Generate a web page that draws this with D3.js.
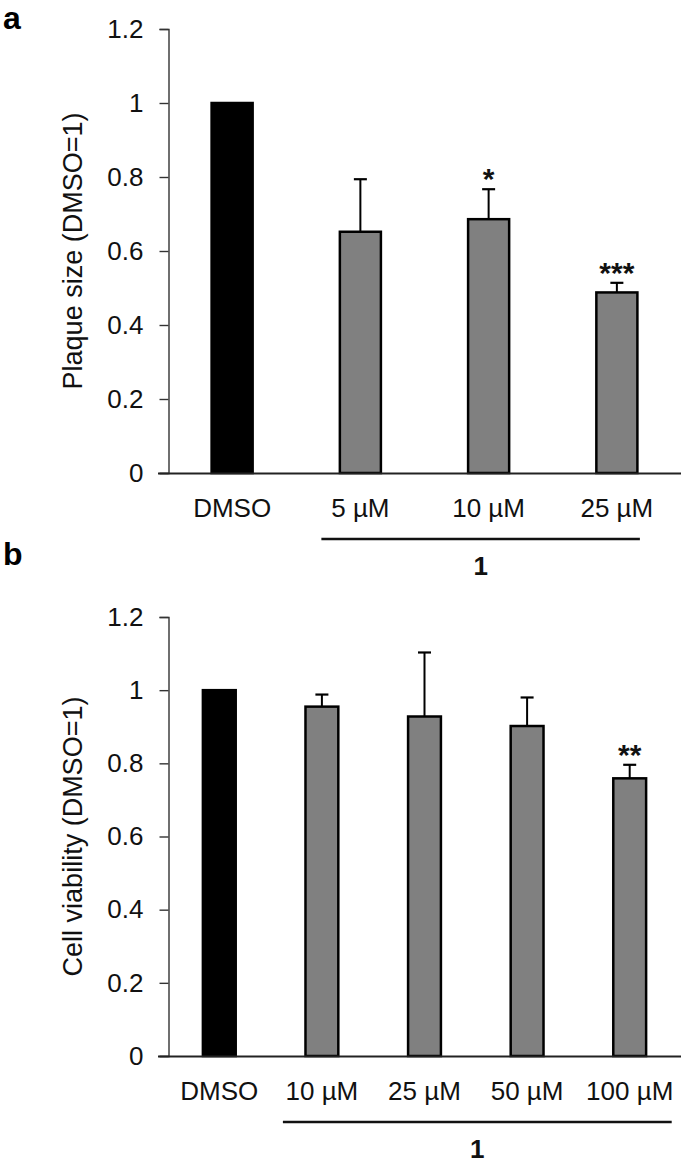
<!DOCTYPE html>
<html>
<head>
<meta charset="utf-8">
<script src="https://cdn.jsdelivr.net/npm/d3@7"></script>
<style>
  html, body { margin: 0; padding: 0; background: #fff; }
  svg { display: block; font-family: "Liberation Sans", Arial, sans-serif; }
</style>
</head>
<body>
<svg id="chart" width="685" height="1168"></svg>
<script>
// ---- Data ----
const catsA = ["DMSO", "5 µM", "10 µM", "25 µM"];
const valsA = [1.0, 0.652, 0.686, 0.488];
const errA  = [0, 0.142, 0.081, 0.026];
const sigA  = ["", "", "*", "***"];

const catsB = ["DMSO", "10 µM", "25 µM", "50 µM", "100 µM"];
const valsB = [1.0, 0.955, 0.928, 0.902, 0.759];
const errB  = [0, 0.033, 0.175, 0.078, 0.037];
const sigB  = ["", "", "", "", "**"];

const yTicks = [0, 0.2, 0.4, 0.6, 0.8, 1, 1.2];
const colors = ["#000000", "#808080"];

const svg = d3.select("#chart");

function panel(o) {
  const g = svg.append("g");
  const x = d3.scaleBand().domain(o.cats).range([168, 681]);
  const y = d3.scaleLinear().domain([0, 1.2]).range([o.y0, o.y1]);
  const bw = x.bandwidth() * 0.32;
  const cx = c => x(c) + x.bandwidth() / 2;

  // y axis
  const ax = g.append("g").attr("transform", "translate(168.5,0)")
    .call(d3.axisLeft(y).tickValues(yTicks).tickFormat(d => String(d))
      .tickSize(9).tickSizeOuter(9).tickPadding(16));
  ax.select(".domain").attr("stroke", "#333").attr("stroke-width", 1.4);
  ax.selectAll(".tick line").attr("stroke", "#333").attr("stroke-width", 1.4);
  ax.selectAll(".tick text").attr("font-size", 26).attr("fill", "#111")
    .attr("font-family", "Liberation Sans, Arial, sans-serif");

  // bars
  g.selectAll("rect.bar").data(o.cats).enter().append("rect")
    .attr("x", c => cx(c) - bw / 2)
    .attr("y", (c, i) => y(o.vals[i]))
    .attr("width", bw)
    .attr("height", (c, i) => y(0) - y(o.vals[i]))
    .attr("fill", (c, i) => i === 0 ? colors[0] : colors[1])
    .attr("stroke", "#000").attr("stroke-width", 2.5);

  // error bars
  o.cats.forEach((c, i) => {
    if (!o.err[i]) return;
    const top = y(o.vals[i] + o.err[i]);
    g.append("line").attr("x1", cx(c)).attr("x2", cx(c))
      .attr("y1", y(o.vals[i])).attr("y2", top)
      .attr("stroke", "#000").attr("stroke-width", 2);
    g.append("line").attr("x1", cx(c) - 6.5).attr("x2", cx(c) + 6.5)
      .attr("y1", top).attr("y2", top)
      .attr("stroke", "#000").attr("stroke-width", 2.2);
    if (o.sig[i]) {
      g.append("text").attr("x", cx(c)).attr("y", top - 17 + 0.57 * 30)
        .attr("text-anchor", "middle").attr("font-size", 30).attr("font-weight", "bold")
        .attr("fill", "#111").text(o.sig[i]);
    }
  });

  // x axis line
  g.append("line").attr("x1", 158).attr("x2", 681)
    .attr("y1", y(0) + 0.5).attr("y2", y(0) + 0.5)
    .attr("stroke", "#222").attr("stroke-width", 2);

  // category labels
  g.selectAll("text.cat").data(o.cats).enter().append("text")
    .attr("x", c => cx(c)).attr("y", y(0) + 44)
    .attr("text-anchor", "middle").attr("font-size", 26).attr("fill", "#111")
    .text(c => c);

  // compound bracket line and label
  const lx1 = cx(o.cats[1]) + o.lineL, lx2 = cx(o.cats[o.cats.length - 1]) + o.lineR;
  g.append("line").attr("x1", lx1).attr("x2", lx2)
    .attr("y1", y(0) + 66).attr("y2", y(0) + 66)
    .attr("stroke", "#111").attr("stroke-width", 2.5);
  g.append("text").attr("x", (lx1 + lx2) / 2).attr("y", y(0) + 102)
    .attr("text-anchor", "middle").attr("font-size", 26).attr("font-weight", "bold")
    .attr("fill", "#111").text("1");

  // y label
  g.append("text").attr("transform", `translate(82,${(o.y0 + o.y1) / 2}) rotate(-90)`)
    .attr("text-anchor", "middle").attr("font-size", 27).attr("fill", "#111")
    .text(o.ylabel);

  // panel letter
  g.append("text").attr("x", 3).attr("y", o.letterY)
    .attr("font-size", 32).attr("font-weight", "bold").attr("fill", "#000")
    .text(o.letter);
}

panel({ cats: catsA, vals: valsA, err: errA, sig: sigA, y0: 473, y1: 29,
        ylabel: "Plaque size (DMSO=1)", letter: "a", letterY: 29, lineL: -39, lineR: 23 });
panel({ cats: catsB, vals: valsB, err: errB, sig: sigB, y0: 1056, y1: 617,
        ylabel: "Cell viability (DMSO=1)", letter: "b", letterY: 565, lineL: -39, lineR: 42 });
</script>
</body>
</html>
